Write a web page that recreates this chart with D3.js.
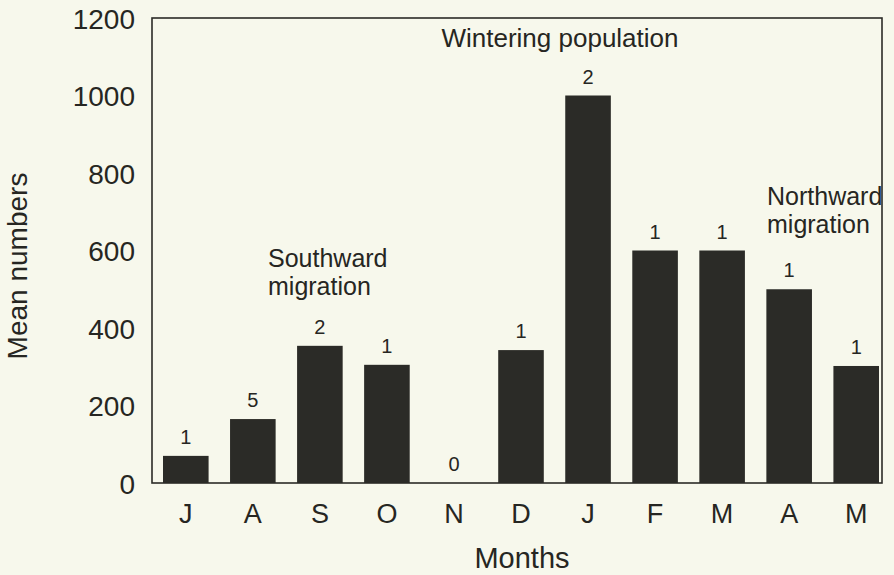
<!DOCTYPE html>
<html><head><meta charset="utf-8">
<script src="https://cdn.jsdelivr.net/npm/d3@7"></script>
<style>body{margin:0;background:#f7f8ec;} text{font-family:"Liberation Sans",Arial,sans-serif;fill:#262622;}</style>
</head><body><svg id="c" width="894" height="575"></svg>
<script>
const months = ["J","A","S","O","N","D","J","F","M","A","M"];
const values = [70,165,354,305,0,343,1000,600,600,500,302];
const counts = ["1","5","2","1","0","1","2","1","1","1","1"];
const yTicks = [0,200,400,600,800,1000,1200];

const svg = d3.select("#c");
const W=894,H=575;
svg.append("rect").attr("width",W).attr("height",H).attr("fill","#f7f8ec");
const m={l:152,t:18,r:882,b:483};
const keys = months.map((d,i)=>i);
const x = d3.scaleBand().domain(keys).range([156.3,885.7]).paddingInner(0.32).paddingOuter(0.1);
const y = d3.scaleLinear().domain([0,1200]).range([m.b,m.t]);

svg.append("g").selectAll("rect").data(values).join("rect")
  .attr("x",(d,i)=>x(i)).attr("width",x.bandwidth())
  .attr("y",d=>y(d)).attr("height",d=>y(0)-y(d)).attr("fill","#2b2b27");

// frame
svg.append("rect").attr("x",m.l).attr("y",m.t).attr("width",m.r-m.l).attr("height",m.b-m.t)
  .attr("fill","none").attr("stroke","#2b2b27").attr("stroke-width",1.6);

const ya = svg.append("g").attr("transform",`translate(${m.l},0)`)
  .call(d3.axisLeft(y).tickValues(yTicks).tickFormat(d3.format("d")).tickSize(0).tickPadding(17));
ya.select(".domain").remove();
ya.selectAll("text").style("font-size","28px").attr("fill","#262622").attr("dy","0.36em");

const xa = svg.append("g").attr("transform",`translate(0,${m.b})`)
  .call(d3.axisBottom(x).tickFormat(i=>months[i]).tickSize(0));
xa.select(".domain").remove();
xa.selectAll("text").style("font-size","27px").attr("fill","#262622").attr("y",40).attr("dy",0);

svg.append("g").selectAll("text").data(values).join("text")
  .attr("x",(d,i)=>x(i)+x.bandwidth()/2).attr("y",d=>y(d)-12)
  .attr("text-anchor","middle").style("font-size","20px").text((d,i)=>counts[i]);

svg.append("text").attr("x",522).attr("y",568).attr("text-anchor","middle").style("font-size","29px").text("Months");
svg.append("text").attr("transform","translate(27,266) rotate(-90)").attr("text-anchor","middle").style("font-size","28px").text("Mean numbers");

svg.append("text").attr("x",560).attr("y",47).attr("text-anchor","middle").style("font-size","26px").text("Wintering population");
const sw = svg.append("text").style("font-size","25px");
sw.append("tspan").attr("x",268).attr("y",267).text("Southward");
sw.append("tspan").attr("x",268).attr("y",295).text("migration");
const nw = svg.append("text").style("font-size","25px");
nw.append("tspan").attr("x",767).attr("y",205).text("Northward");
nw.append("tspan").attr("x",767).attr("y",233).text("migration");
</script></body></html>
